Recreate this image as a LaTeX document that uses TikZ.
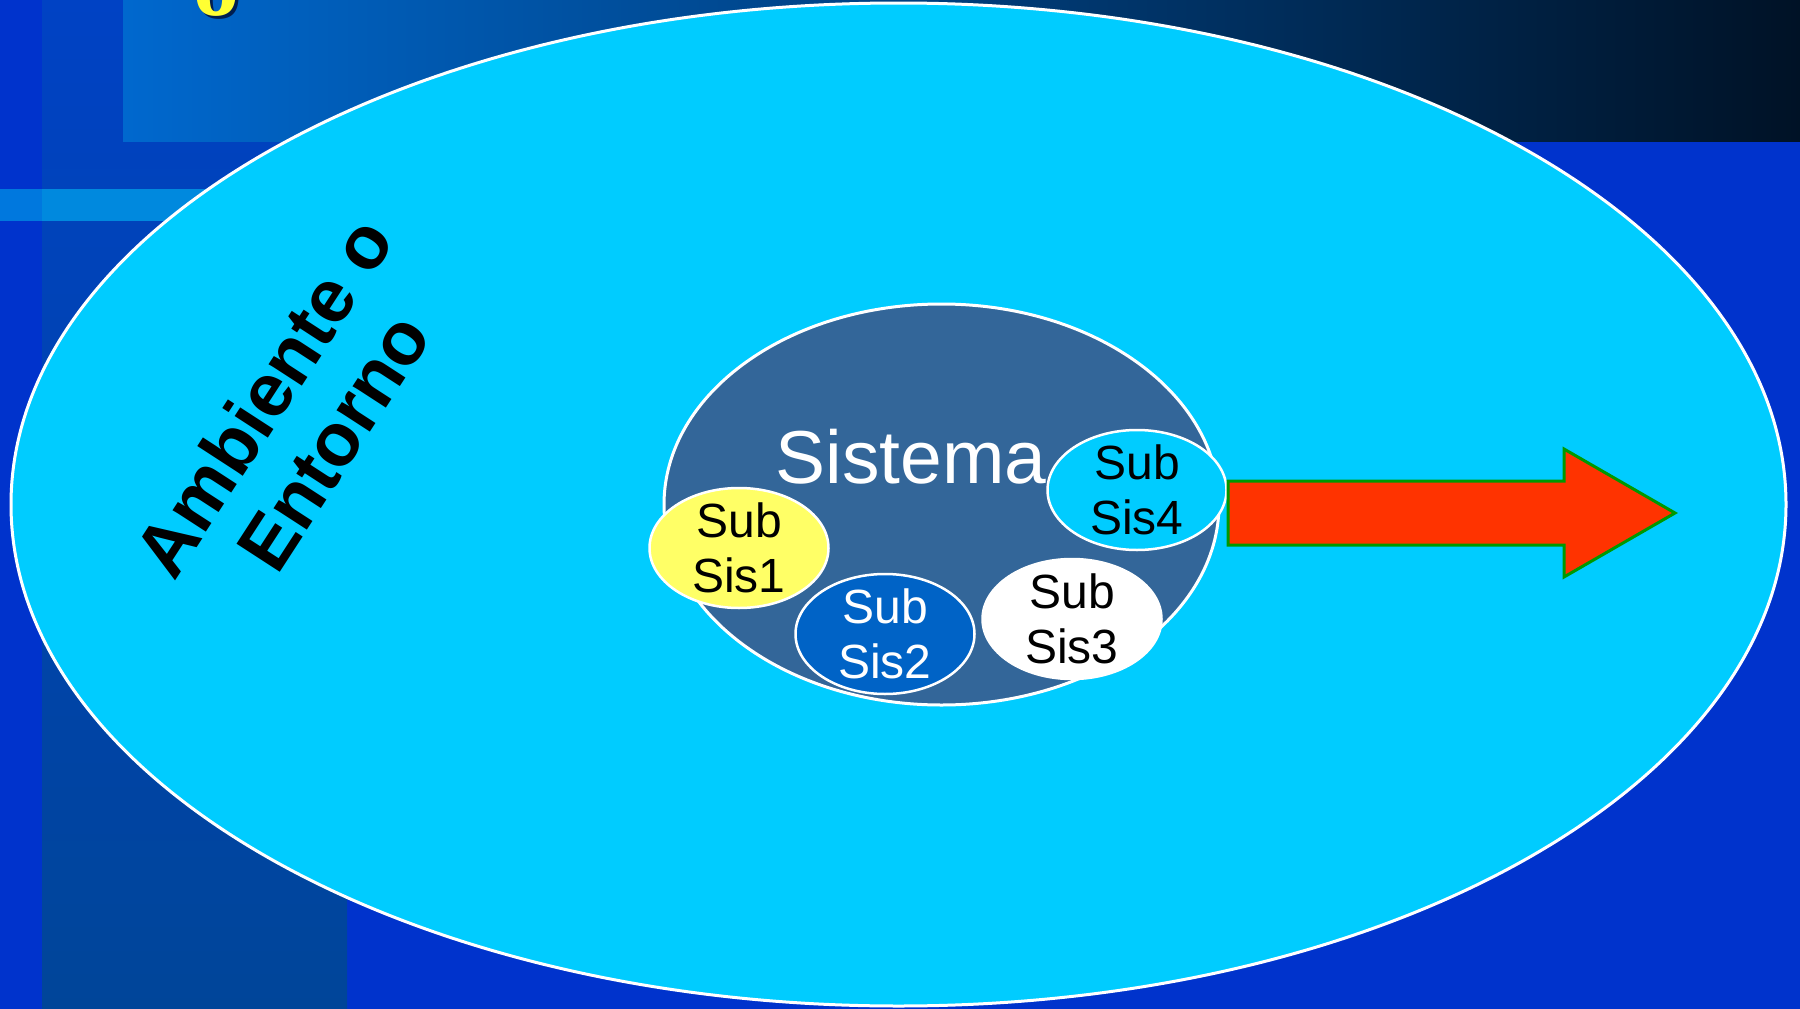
\documentclass[tikz,border=0pt]{standalone}
\usepackage{fontspec}
\setmainfont{Liberation Sans}
\newfontfamily\titlefont{Liberation Serif}
\usetikzlibrary{shapes.geometric}
\definecolor{bgblue}{RGB}{0,51,204}
\definecolor{bandtop}{RGB}{0,66,196}
\definecolor{bandbot}{RGB}{0,69,153}
\definecolor{topleft}{RGB}{0,104,206}
\definecolor{topright}{RGB}{0,18,38}
\definecolor{stripa}{RGB}{0,120,222}
\definecolor{stripb}{RGB}{0,137,222}
\definecolor{envcyan}{RGB}{0,204,255}
\definecolor{sysblue}{RGB}{51,102,153}
\definecolor{subyellow}{RGB}{255,255,102}
\definecolor{subblue}{RGB}{0,99,198}
\definecolor{arrowred}{RGB}{255,51,0}
\definecolor{arrowgreen}{RGB}{0,153,0}
\definecolor{titleyellow}{RGB}{255,255,51}
\definecolor{shadowblue}{RGB}{0,30,80}
\begin{document}
\begin{tikzpicture}[x=1pt,y=-1pt,
  envshape/.style={ellipse, fill=envcyan, draw=white, line width=3pt, inner sep=0pt,
    minimum width=1775pt, minimum height=1003pt},
  sysshape/.style={ellipse, fill=sysblue, draw=white, line width=3pt, inner sep=0pt,
    minimum width=555pt, minimum height=401pt},
  subshape/.style={ellipse, draw=white, line width=2.5pt, inner sep=0pt,
    minimum width=179pt, minimum height=120pt},
  subtext/.style={align=center, inner sep=0pt, font=\fontsize{48}{55}\selectfont},
]
\useasboundingbox (0,0) rectangle (1800,1009);
% background
\fill[bgblue] (0,0) rectangle (1800,1009);
\shade[top color=bandtop, bottom color=bandbot] (42,0) rectangle (347,1009);
\shade[left color=topleft, right color=topright] (123,0) rectangle (1800,141);
\fill[stripa] (0,189) rectangle (42,221);
\fill[stripb] (42,189) rectangle (600,221);
% cut-off title glyph
\node[anchor=base, inner sep=0pt, text=shadowblue, font=\titlefont\bfseries\fontsize{92}{92}\selectfont] at (219,18) {o};
\node[anchor=base, inner sep=0pt, text=titleyellow, font=\titlefont\bfseries\fontsize{92}{92}\selectfont] (title) at (216,15) {o};
% environment
\node[envshape] (env) at (898.5,504.5) {};
\node[rotate=57, align=center, inner sep=0pt, font=\bfseries\fontsize{75}{83}\selectfont] (envlabel) at (298,419) {Ambiente o\\Entorno};
% system
\node[sysshape] (sys) at (941.5,504.5) {};
\node[anchor=base, inner sep=0pt, text=white, font=\fontsize{75}{80}\selectfont] (syslabel) at (911,483) {Sistema};
% subsystems
\node[subshape, fill=subyellow] (s1) at (739,548) {};
\node[subtext] at (s1) {Sub\\Sis1};
\node[subshape, fill=subblue] (s2) at (885,634) {};
\node[subtext, text=white] at (s2) {Sub\\Sis2};
\node[subshape, fill=white] (s3) at (1072,619) {};
\node[subtext] at (s3) {Sub\\Sis3};
\node[subshape, fill=envcyan] (s4) at (1137,490) {};
\node[subtext] at (s4) {Sub\\Sis4};
% output arrow
\draw[fill=arrowred, draw=arrowgreen, line width=3pt]
  (1228,481) -- (1564,481) -- (1564,449) -- (1675,513) -- (1564,577) -- (1564,545) -- (1228,545) -- cycle;
\end{tikzpicture}
\end{document}
